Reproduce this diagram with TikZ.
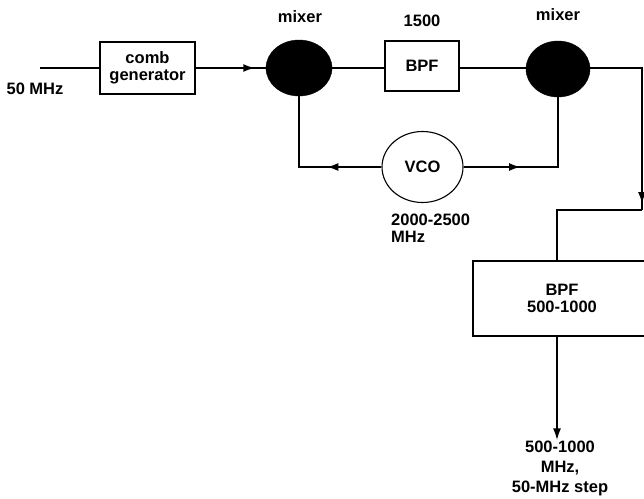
\documentclass[tikz,border=0pt]{standalone}
\usepackage{fontspec}
\setmainfont{Liberation Sans}
\usetikzlibrary{arrows.meta,decorations.markings,shapes.geometric}
\begin{document}
\begin{tikzpicture}[x=1pt,y=-1pt,
  lbl/.style={font=\bfseries\fontsize{16.5}{17}\selectfont, inner sep=0pt},
  blk/.style={draw, line width=1.6pt, inner sep=0pt, align=center, font=\bfseries\fontsize{16.5}{17}\selectfont},
  mixr/.style={ellipse, fill=black, draw=black, minimum width=66pt, minimum height=56pt, inner sep=0pt},
  conn/.style={line width=2.8pt},
  tipend/.style={-{Latex[length=13pt,width=8pt]}},
  midarrow/.style={postaction={decorate}, decoration={markings, mark=at position #1 with {\arrow{Latex[length=12pt,width=8pt]}}}}
]
\useasboundingbox (0,0) rectangle (644,498);
\clip (0,0) rectangle (644,498);
\fill[white] (0,0) rectangle (644,498);

% nodes
\coordinate (in) at (40,68);
\node[lbl] (inlbl) at (35,89) {50 MHz};
\node[blk, minimum width=95pt, minimum height=52pt] (comb) at (147.5,68) {comb\\generator};
\node[mixr] (mix1) at (299,68) {};
\node[lbl] (mix1lbl) at (300,17) {mixer};
\node[blk, minimum width=74pt, minimum height=50pt] (bpf) at (422,66) {BPF};
\node[lbl] (bpflbl) at (422,21) {1500};
\node[mixr, minimum width=64pt] (mix2) at (558,69) {};
\node[lbl] (mix2lbl) at (558,15) {mixer};
\node[ellipse, draw, line width=1.1pt, minimum width=81pt, minimum height=71pt, inner sep=0pt,
      font=\bfseries\fontsize{16.5}{17}\selectfont] (vco) at (422.5,167) {VCO};
\node[lbl, align=left, anchor=west, font=\bfseries\fontsize{16.5}{17}\selectfont] (vcolbl) at (391,228) {2000-2500\\MHz};
\node[blk, minimum width=178pt, minimum height=75pt, text depth=0pt] (bpf2) at (562,298.5)
   {\fontsize{16.5}{20}\selectfont BPF\\500-1000};
\node[lbl, align=center, font=\bfseries\fontsize{16.5}{20}\selectfont] (out) at (560,468) {500-1000\\MHz,\\50-MHz step};

\coordinate (r1) at (642,68);
\coordinate (r2) at (642,210);
\coordinate (r3) at (557,210);

% connectors
\draw[conn] (in) -- (comb.west);
\draw[conn, midarrow=0.85] (comb.east) -- (mix1.west);
\draw[conn] (mix1.east) -- (bpf.west |- mix1.east);
\draw[conn] (bpf.east |- mix1.east) -- (mix2.west |- mix1.east);
\draw[conn, midarrow=0.36] (vco.west) -| (mix1.south);
\draw[conn, midarrow=0.35] (vco.east) -| (mix2.south);
\draw[conn, midarrow=0.97] (mix2.east |- mix1.east) -- (r1) -- (r2);
\draw[conn] (r2) -- (r3) -- (r3 |- bpf2.north);
\draw[conn, tipend] (r3 |- bpf2.south) -- ([yshift=-1pt]r3 |- out.north);
\end{tikzpicture}
\end{document}
